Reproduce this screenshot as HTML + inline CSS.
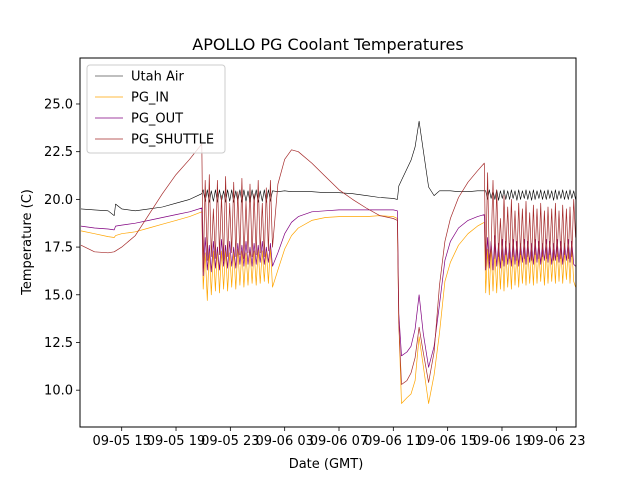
<!DOCTYPE html>
<html><head><meta charset="utf-8"><style>
body{margin:0;background:#fff}
svg text{font-family:"DejaVu Sans","Liberation Sans",sans-serif}
</style></head><body>
<svg id="chart" width="640" height="480" viewBox="0 0 640 480" xmlns="http://www.w3.org/2000/svg">
<rect width="640" height="480" fill="#fff"/>
<text x="328" y="50" font-size="16" text-anchor="middle">APOLLO PG Coolant Temperatures</text>
<g id="plot"></g>
<text x="326" y="468" font-size="13" text-anchor="middle">Date (GMT)</text>
<text transform="translate(31,242) rotate(-90)" font-size="13" text-anchor="middle">Temperature (C)</text>
</svg>
<script>
// hours since 09-05 00:00
const times = [12.0,13,14,14.45,14.55,15,16,17,18,19,20,20.9,
21.0,21.15,21.3,21.45,21.6,21.75,21.9,22.05,22.2,22.35,22.5,22.65,22.8,22.95,23.1,23.25,23.4,23.55,23.7,23.85,24.0,24.15,24.3,24.45,24.6,24.75,24.9,25.05,25.2,25.35,25.5,25.65,25.8,25.95,26.1,
26.5,27,27.5,28,29,30,31,32,33,34,35,35.3,
35.4,35.6,36,36.3,36.6,36.9,37.2,37.6,38.0,38.4,38.8,39.2,39.8,40.5,41.2,41.7,
41.8,41.94,42.07,42.2,42.34,42.48,42.61,42.75,42.88,43.02,43.15,43.28,43.42,43.56,43.69,43.82,43.96,44.1,44.23,44.36,44.5,44.64,44.77,44.9,45.04,45.18,45.31,45.44,45.58,45.72,45.85,45.98,46.12,46.26,46.39,46.52,46.66,46.8,46.93,47.06,47.2,47.34,47.47,47.6,47.74,47.88,48.01,48.14,48.28,48.42];
const utahAir = [19.5,19.45,19.4,19.15,19.75,19.5,19.4,19.5,19.6,19.8,20.0,20.3,
20.5,19.9,20.5,19.85,20.45,19.9,20.5,19.85,20.5,19.9,20.45,19.85,20.5,19.9,20.5,19.85,20.45,19.9,20.5,19.85,20.5,19.9,20.45,19.85,20.5,19.9,20.5,19.85,20.45,19.9,20.5,19.85,20.5,19.9,20.45,
20.4,20.45,20.4,20.4,20.4,20.35,20.35,20.3,20.2,20.1,20.05,20.0,
20.7,21.0,21.6,22.05,22.75,24.1,22.6,20.65,20.2,20.45,20.45,20.45,20.4,20.4,20.45,20.45,
20.45,20.0,20.5,20.05,20.45,20.0,20.5,19.95,20.45,20.05,20.5,20.0,20.45,20.0,20.5,20.05,20.45,19.95,20.5,20.0,20.45,20.05,20.5,20.0,20.45,19.95,20.5,20.0,20.45,20.05,20.5,20.0,20.45,20.0,20.5,20.05,20.45,19.95,20.5,20.0,20.45,20.05,20.5,20.0,20.45,20.0,20.5,20.05,20.45,20.0];
const pgIn = [18.35,18.2,18.05,18.0,18.1,18.2,18.3,18.5,18.7,18.9,19.1,19.35,
15.3,17.2,14.7,17.4,15.0,17.3,15.2,17.5,15.1,17.3,15.3,17.4,15.2,17.2,15.4,17.3,15.3,17.4,15.5,17.3,15.4,17.2,15.5,17.4,15.6,17.3,15.5,17.4,15.6,17.3,15.7,17.4,15.6,17.5,15.4,
16.3,17.4,18.1,18.5,18.9,19.05,19.1,19.1,19.1,19.15,19.1,19.0,
13.5,9.3,9.6,9.8,10.5,12.8,11.3,9.3,10.8,13.0,15.7,16.7,17.6,18.2,18.6,18.8,
15.1,17.4,15.0,17.5,15.2,17.3,15.1,17.4,15.3,17.3,15.2,17.5,15.4,17.3,15.3,17.4,15.5,17.2,15.4,17.4,15.6,17.3,15.5,17.4,15.6,17.3,15.5,17.5,15.6,17.3,15.7,17.4,15.5,17.3,15.6,17.4,15.7,17.3,15.6,17.5,15.7,17.4,15.6,17.3,15.8,17.4,15.6,17.5,15.7,15.4];
const pgOut = [18.6,18.5,18.45,18.4,18.6,18.65,18.75,18.9,19.05,19.2,19.35,19.55,
16.0,18.0,16.3,17.6,16.2,17.8,16.4,17.5,16.3,17.9,16.5,17.6,16.4,17.8,16.5,17.5,16.4,17.7,16.6,17.6,16.5,17.8,16.6,17.5,16.5,17.7,16.6,17.6,16.7,17.8,16.6,17.5,16.7,17.7,16.5,
17.2,18.2,18.8,19.1,19.35,19.4,19.45,19.45,19.45,19.45,19.45,19.4,
14.0,11.8,12.0,12.3,13.2,15.0,13.0,11.2,12.3,14.5,16.8,17.8,18.5,18.9,19.1,19.2,
16.3,18.0,16.4,17.8,16.3,18.1,16.5,17.7,16.4,17.9,16.5,17.8,16.6,17.7,16.5,17.9,16.6,17.8,16.5,17.7,16.7,17.9,16.6,17.8,16.7,17.7,16.6,17.9,16.7,17.8,16.6,17.7,16.8,17.9,16.7,17.8,16.6,17.7,16.8,17.9,16.7,17.8,16.6,17.7,16.8,17.9,16.7,17.8,16.6,16.5];
const pgShuttle = [17.6,17.25,17.2,17.25,17.3,17.5,18.1,19.2,20.3,21.3,22.1,22.9,
16.2,21.0,16.8,21.3,17.0,19.5,16.9,21.0,17.1,20.2,16.8,21.2,17.0,19.8,17.2,20.9,17.0,20.4,17.1,21.1,16.9,19.9,17.2,20.8,17.0,20.3,17.1,21.0,17.2,19.8,17.0,20.6,17.3,21.0,17.5,
20.8,22.1,22.6,22.5,21.9,21.2,20.5,20.0,19.55,19.15,19.0,18.9,
13.5,10.3,10.5,10.9,11.7,13.3,12.0,10.4,12.0,15.5,17.8,19.0,20.1,20.9,21.5,21.9,
16.5,21.4,16.8,17.5,21.0,16.9,20.5,17.0,19.0,16.8,20.2,17.1,19.6,16.9,20.0,17.0,19.4,16.8,19.8,17.1,19.5,16.9,19.9,17.0,19.3,16.8,19.7,17.1,19.5,16.9,19.8,17.0,19.4,16.9,19.6,17.1,19.5,16.8,19.8,17.0,19.4,16.9,19.7,17.1,19.5,16.9,19.6,17.0,20.0,18.0];
const xTickHours = [15,19,23,27,31,35,39,43,47];
const xTickLabels = ["09-05 15","09-05 19","09-05 23","09-06 03","09-06 07","09-06 11","09-06 15","09-06 19","09-06 23"];
const yTicks = [10,12.5,15,17.5,20,22.5,25];
const seriesNames = ["Utah Air","PG_IN","PG_OUT","PG_SHUTTLE"];

const L=80,R=576,T=58,B=427;
const x0=11.93,x1=48.45,y0=8.07,y1=27.41;
const sx=h=>L+(h-x0)/(x1-x0)*(R-L);
const sy=v=>B-(v-y0)/(y1-y0)*(B-T);
const NS="http://www.w3.org/2000/svg";
const plot=document.getElementById('plot');
function mk(tag,attrs,parent){const e=document.createElementNS(NS,tag);for(const k in attrs)e.setAttribute(k,attrs[k]);(parent||plot).appendChild(e);return e;}

const colors=["#000000","#ffa500","#800080","#a52a2a"];
const widths=[0.6,0.7,0.7,0.7];
const data=[utahAir,pgIn,pgOut,pgShuttle];
const clip=mk('clipPath',{id:'pc'});mk('rect',{x:L,y:T,width:R-L,height:B-T},clip);
data.forEach((vals,i)=>{
  const pts=vals.map((v,j)=>sx(times[j]).toFixed(1)+','+sy(v).toFixed(1)).join(' ');
  const pl=mk('polyline',{points:pts,fill:'none',stroke:colors[i],'stroke-width':widths[i],'clip-path':'url(#pc)','stroke-linejoin':'round'});
  
  
});
const frame=mk('rect',{x:L,y:T,width:R-L,height:B-T,fill:'none',stroke:'#000','stroke-width':1});


xTickHours.forEach((h,i)=>{
  const x=sx(h);
  const tk=mk('line',{x1:x,x2:x,y1:B,y2:B+4,stroke:'#000','stroke-width':0.8});
  
  
  const t=mk('text',{x:x,y:B+18,'font-size':13,'text-anchor':'middle'});
  t.textContent=xTickLabels[i];
  
  
});
yTicks.forEach(v=>{
  const y=sy(v);
  const tk=mk('line',{x1:L-4,x2:L,y1:y,y2:y,stroke:'#000','stroke-width':0.8});
  
  
  const t=mk('text',{x:L-7,y:y+4.5,'font-size':13,'text-anchor':'end'});
  t.textContent=v.toFixed(1);
  
  
});
const lg=mk('g',{});


mk('rect',{x:87,y:65,width:138,height:88,rx:3,fill:'#fff','fill-opacity':0.8,stroke:'#ccc','stroke-width':1},lg);
seriesNames.forEach((n,i)=>{
  const y=76+i*21;
  const g=mk('g',{},lg);
  
  
  mk('line',{x1:95,x2:123,y1:y,y2:y,stroke:colors[i],'stroke-width':widths[i]},g);
  const t=mk('text',{x:131,y:y+4.5,'font-size':13},g);
  t.textContent=n;
});
</script>
</body></html>
